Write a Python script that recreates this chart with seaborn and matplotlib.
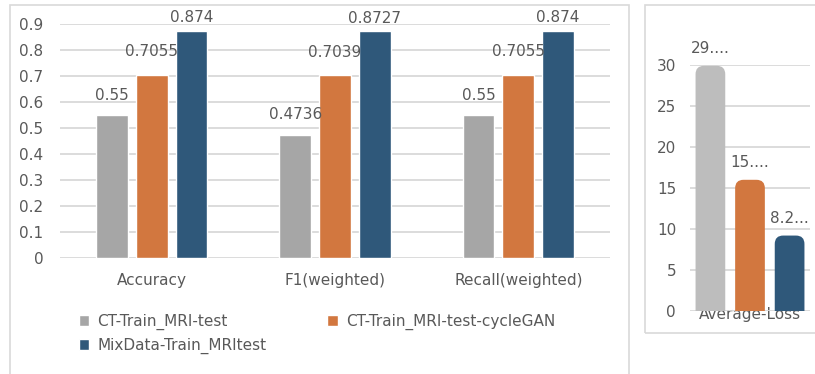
import matplotlib
matplotlib.use("Agg")
import matplotlib.pyplot as plt
import seaborn as sns
import pandas as pd
from matplotlib.patches import Rectangle, FancyBboxPatch

# chart data
metrics = ["Accuracy", "F1(weighted)", "Recall(weighted)"]
models = ["CT-Train_MRI-test", "CT-Train_MRI-test-cycleGAN", "MixData-Train_MRItest"]
ct_scores = [0.55, 0.4736, 0.55]
cycle_scores = [0.7055, 0.7039, 0.7055]
mix_scores = [0.874, 0.8727, 0.874]

loss_metric = ["Average-Loss"]
loss_values = [29.9, 16.0, 9.2]
loss_labels = ["29....", "15....", "8.2..."]

colors = ["#A6A6A6", "#D2773F", "#2F587A"]
loss_colors = ["#BDBDBD", "#D2773F", "#2F587A"]
text_color = "#595959"
grid_color = "#D9D9D9"

df = pd.DataFrame({
    "metric": metrics * 3,
    "model": [models[0]] * 3 + [models[1]] * 3 + [models[2]] * 3,
    "score": ct_scores + cycle_scores + mix_scores,
})
df_loss = pd.DataFrame({
    "metric": loss_metric * 3,
    "model": models,
    "loss": loss_values,
})

sns.set_theme(style="white")
plt.rcParams["font.family"] = ["DejaVu Sans"]

fig = plt.figure(figsize=(8.15, 3.74), dpi=100)

# panel frames
fig.patches.append(Rectangle((10 / 815, -0.01), 619 / 815, 1.01 - 5 / 374,
                             transform=fig.transFigure, fill=False,
                             edgecolor=grid_color, lw=1.2))
fig.patches.append(Rectangle((645 / 815, 1 - 333 / 374), 180 / 815, 328 / 374,
                             transform=fig.transFigure, fill=False,
                             edgecolor=grid_color, lw=1.2))

# main metrics chart
ax = fig.add_axes([60 / 815, 1 - 258 / 374, 550 / 815, 234 / 374])
sns.barplot(data=df, x="metric", y="score", hue="model", palette=colors,
            width=0.65, gap=0.2, ax=ax, legend=True, saturation=1)
ax.set_ylim(0, 0.9)
ax.set_xlim(-0.5, 2.5)
ax.set_yticks([i / 10 for i in range(10)])
ax.set_yticklabels(["0"] + [f"0.{i}" for i in range(1, 10)])
ax.yaxis.grid(True, color=grid_color, lw=1.3)
ax.set_axisbelow(True)
sns.despine(ax=ax, left=True, bottom=True, top=True, right=True)
ax.set_xlabel("")
ax.set_ylabel("")
ax.tick_params(axis="y", length=0, pad=12, labelsize=11, labelcolor=text_color)
ax.tick_params(axis="x", length=0, pad=11, labelsize=11, labelcolor=text_color)

label_pads = [9, 11, 4]
for cont, pad, vals in zip(ax.containers, label_pads, [ct_scores, cycle_scores, mix_scores]):
    ax.bar_label(cont, labels=[f"{v:g}" for v in vals], padding=pad,
                 fontsize=11, color=text_color)

handles, labels = ax.get_legend_handles_labels()
ax.legend_.remove()
order = [0, 2, 1]
fig.legend([handles[i] for i in order], [labels[i] for i in order],
           ncol=2, loc="upper left", bbox_to_anchor=(65 / 815, 1 - 300 / 374),
           frameon=False, fontsize=11, labelcolor=text_color,
           handlelength=0.7, handleheight=0.7, handletextpad=0.5,
           columnspacing=4.0, labelspacing=0.5)

# loss chart
ax2 = fig.add_axes([690 / 815, 1 - 311 / 374, 120 / 815, 246 / 374])
sns.barplot(data=df_loss, x="metric", y="loss", hue="model", palette=loss_colors,
            width=0.99, gap=0.25, ax=ax2, legend=False, saturation=1)
ax2.set_ylim(0, 30)
ax2.set_xlim(-0.5, 0.5)
ax2.set_yticks(range(0, 31, 5))
ax2.yaxis.grid(True, color=grid_color, lw=1.3)
ax2.set_axisbelow(True)
sns.despine(ax=ax2, left=True, bottom=True, top=True, right=True)
ax2.set_xlabel("")
ax2.set_ylabel("")
ax2.tick_params(axis="y", length=0, pad=10, labelsize=11, labelcolor=text_color)
ax2.tick_params(axis="x", length=0, pad=-3, labelsize=11, labelcolor=text_color)
for cont, lab in zip(ax2.containers, loss_labels):
    ax2.bar_label(cont, labels=[lab], padding=7, fontsize=11, color=text_color)

# rounded tops for the loss bars
aspect = (30 / 246) / (1 / 120)
for bar in list(ax2.patches):
    x, w, h = bar.get_x(), bar.get_width(), bar.get_height()
    rounded = FancyBboxPatch((x, -3), w, h + 3,
                             boxstyle="round,pad=0,rounding_size=0.07",
                             mutation_aspect=aspect, facecolor=bar.get_facecolor(),
                             edgecolor="none", zorder=bar.get_zorder())
    ax2.add_patch(rounded)
    bar.set_visible(False)

fig.savefig("out.png", dpi=100)
